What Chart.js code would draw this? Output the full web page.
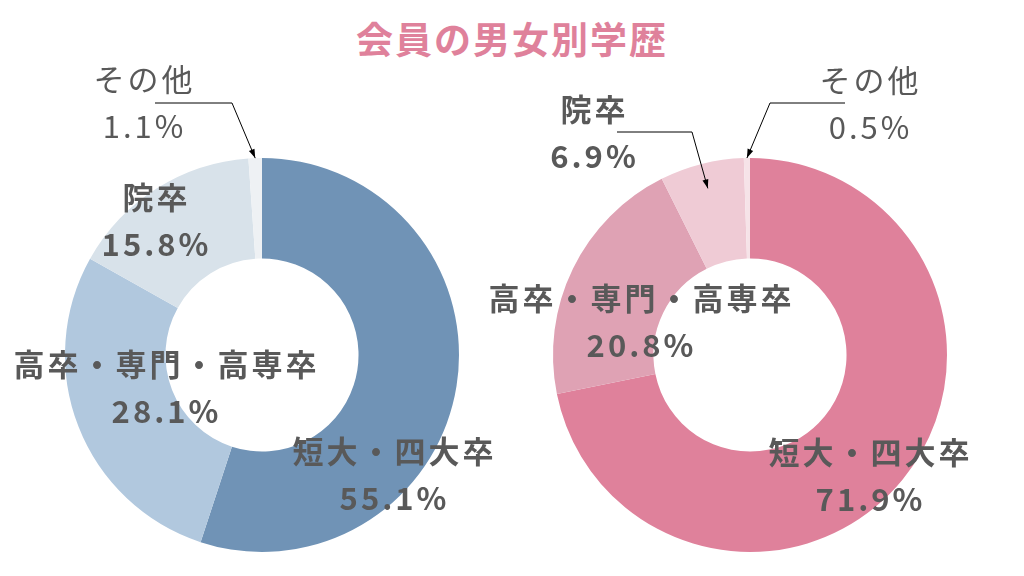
<!DOCTYPE html>
<html>
<head>
<meta charset="utf-8">
<script src="https://cdn.jsdelivr.net/npm/chart.js@4.4.1/dist/chart.umd.min.js"></script>
<style>
  html, body { margin: 0; padding: 0; background: #fff; width: 1024px; height: 576px; overflow: hidden; }
  #title { position: absolute; left: 0; top: 11px; width: 1024px; text-align: center;
    font: bold 37px "Noto Sans CJK JP", sans-serif; color: #df819b; letter-spacing: 2px; }
  canvas { position: absolute; left: 0; top: 0; }
</style>
</head>
<body>
<div id="title">会員の男女別学歴</div>
<canvas id="men" width="1024" height="576"></canvas>
<canvas id="women" width="1024" height="576"></canvas>
<script>
const categories = ['短大・四大卒', '高卒・専門・高専卒', '院卒', 'その他']
const menValues = [55.1, 28.1, 15.8, 1.1]
const womenValues = [71.9, 20.8, 6.9, 0.5]
const menColors = ['#7093b6', '#b1c8de', '#d8e2ea', '#eef1f4']
const womenColors = ['#df819b', '#dfa2b4', '#efcbd5', '#f6e3e8']

const TEXT = '#595959'

// draws the two-line labels and the little arrows
const sliceLabels = {
  id: 'sliceLabels',
  afterDraw(chart, args, opts) {
    const ctx = chart.ctx
    const meta = chart.getDatasetMeta(0)
    const values = chart.data.datasets[0].data
    ctx.save()
    opts.items.forEach((item, i) => {
      ctx.fillStyle = TEXT
      ctx.textAlign = 'center'
      ctx.textBaseline = 'middle'
      ctx.font = (item.light ? '400 ' : 'bold ') + '31px "Noto Sans CJK JP", sans-serif'
      ctx.letterSpacing = '3px'
      ctx.fillText(chart.data.labels[i], item.x + 1.5, item.y)
      ctx.fillText(values[i].toFixed(1) + '%', item.x + 1.5, item.y + 47)

      if (!item.leader) return
      const arc = meta.data[i].getProps(['x', 'y', 'startAngle', 'endAngle', 'innerRadius', 'outerRadius'], true)
      const mid = (arc.startAngle + arc.endAngle) / 2
      const r = arc.innerRadius + item.leader.r * (arc.outerRadius - arc.innerRadius)
      const tip = [arc.x + Math.cos(mid) * r, arc.y + Math.sin(mid) * r]
      const [sx, sy] = item.leader.from
      const [ex, ey] = item.leader.elbow
      ctx.strokeStyle = '#000'
      ctx.lineWidth = 1
      ctx.beginPath()
      ctx.moveTo(sx, sy)
      ctx.lineTo(ex, ey)
      ctx.lineTo(tip[0], tip[1])
      ctx.stroke()
      const ang = Math.atan2(tip[1] - ey, tip[0] - ex)
      ctx.fillStyle = '#000'
      ctx.beginPath()
      ctx.moveTo(tip[0], tip[1])
      ctx.lineTo(tip[0] - 9 * Math.cos(ang) + 3 * Math.sin(ang), tip[1] - 9 * Math.sin(ang) - 3 * Math.cos(ang))
      ctx.lineTo(tip[0] - 9 * Math.cos(ang) - 3 * Math.sin(ang), tip[1] - 9 * Math.sin(ang) + 3 * Math.cos(ang))
      ctx.closePath()
      ctx.fill()
    })
    ctx.restore()
  },
}

const makeDonut = (id, values, colors, padding, items) => new Chart(document.getElementById(id), {
  type: 'doughnut',
  data: {
    labels: categories,
    datasets: [{ data: values, backgroundColor: colors, borderWidth: 0 }],
  },
  options: {
    responsive: false,
    animation: false,
    cutout: '49%',
    layout: { padding },
    plugins: {
      legend: { display: false },
      tooltip: { enabled: false },
      sliceLabels: { items },
    },
  },
  plugins: [sliceLabels],
})

makeDonut('men', menValues, menColors, { left: 65, right: 565, top: 158, bottom: 24 }, [
  { x: 393, y: 451 },
  { x: 165, y: 364 },
  { x: 155, y: 197 },
  { x: 143, y: 79, light: true, leader: { from: [155, 103], elbow: [232, 103], r: 1 } },
])

makeDonut('women', womenValues, womenColors, { left: 553, right: 77, top: 158, bottom: 24 }, [
  { x: 869, y: 452 },
  { x: 640, y: 298 },
  { x: 593, y: 109, leader: { from: [617, 132], elbow: [692, 132], r: 0.75 } },
  { x: 869, y: 80, light: true, leader: { from: [845, 103], elbow: [770, 103], r: 1 } },
])
</script>
</body>
</html>
